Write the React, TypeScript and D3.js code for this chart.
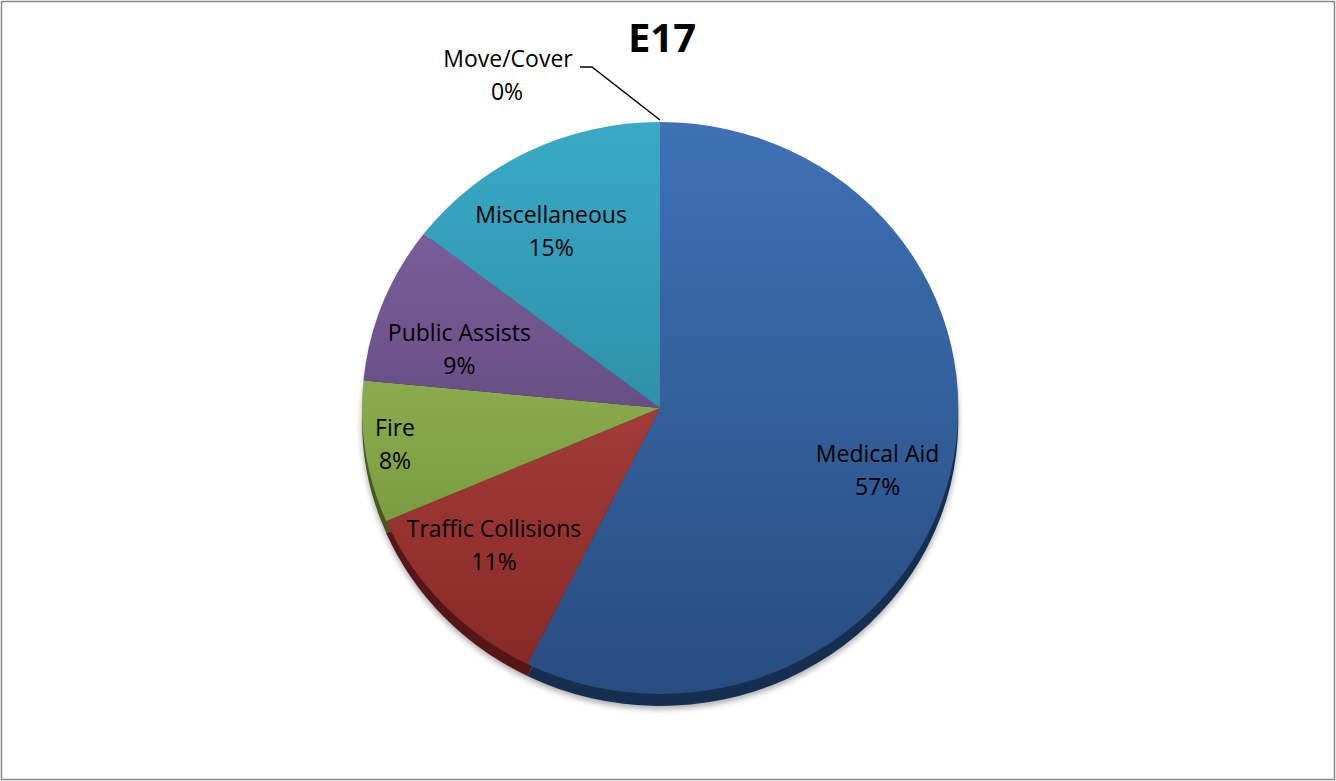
import React from "react";
import * as d3 from "d3";

// ---- data ----
const categories = ["Medical Aid", "Traffic Collisions", "Fire", "Public Assists", "Miscellaneous", "Move/Cover"];
const counts = [574, 112, 80, 89, 146, 0];
const title = "E17";

// ---- style ----
const topColors = ["#3E71B5", "#C04E4B", "#A6C664", "#8566A8", "#39AAC6"];
const bottomColors = ["#284D80", "#852826", "#6A8A33", "#4C3763", "#24778E"];
const rimColors = ["#182E4F", "#561614", "#445A1F", "#2F2240", "#154A58"];

const W = 1336;
const H = 781;
const CX = 660;
const CY = 408;
const RX = 298;
const RY = 286;
const RIM = 12;
const FONT = "'Open Sans', 'Noto Sans', sans-serif";

const labelLayout: Record<string, { f: number; dx: number; dy: number }> = {
  "Medical Aid": { f: 0.75, dx: 0, dy: 12 },
  "Traffic Collisions": { f: 0.73, dx: -8, dy: -7 },
  Fire: { f: 0.9, dx: 0, dy: -4 },
  "Public Assists": { f: 0.72, dx: -1, dy: 16 },
  Miscellaneous: { f: 0.72, dx: -14, dy: 7 },
};

export default function App() {
  const pie = d3.pie<number>().sort(null).value((d) => d);
  const arcs = pie(counts);
  const total = d3.sum(counts);
  const arcGen = d3.arc<d3.PieArcDatum<number>>().innerRadius(0).outerRadius(1);
  const pct = (v: number) => `${Math.round((v / total) * 100)}%`;

  const moveArc = arcs[5];
  const ax = CX + RX * Math.sin(moveArc.startAngle);
  const ay = CY - RY * Math.cos(moveArc.startAngle);

  return (
    <svg width={W} height={H} style={{ position: "absolute", left: 0, top: 0, background: "#fff" }}>
      <defs>
        {topColors.map((c, i) => (
          <linearGradient key={i} id={`g${i}`} gradientUnits="userSpaceOnUse" x1={0} y1={-1} x2={0} y2={1}>
            <stop offset="0%" stopColor={c} />
            <stop offset="100%" stopColor={bottomColors[i]} />
          </linearGradient>
        ))}
        <filter id="shadow" x="-10%" y="-10%" width="120%" height="125%">
          <feGaussianBlur in="SourceAlpha" stdDeviation="3" />
          <feOffset dx="0" dy="3" result="b" />
          <feComponentTransfer>
            <feFuncA type="linear" slope="0.35" />
          </feComponentTransfer>
          <feMerge>
            <feMergeNode />
            <feMergeNode in="SourceGraphic" />
          </feMerge>
        </filter>
      </defs>
      <rect x={1.5} y={1.5} width={W - 3} height={H - 3} fill="#fff" stroke="#898989" strokeWidth={1.5} />

      <g filter="url(#shadow)">
        <g transform={`translate(${CX},${CY + RIM}) scale(${RX},${RY})`}>
          {arcs.map((a, i) =>
            a.value > 0 ? <path key={i} d={arcGen(a) || ""} fill={rimColors[i]} /> : null
          )}
        </g>
      </g>
      <g transform={`translate(${CX},${CY}) scale(${RX},${RY})`}>
        {arcs.map((a, i) =>
          a.value > 0 ? <path key={i} d={arcGen(a) || ""} fill={`url(#g${i})`} /> : null
        )}
      </g>

      {arcs.map((a, i) => {
        const name = categories[i];
        const lay = labelLayout[name];
        if (!lay) return null;
        const mid = (a.startAngle + a.endAngle) / 2;
        const x = CX + RX * lay.f * Math.sin(mid) + lay.dx;
        const y = CY - RY * lay.f * Math.cos(mid) + lay.dy;
        return (
          <g key={name} fontFamily={FONT} fontSize={23} fill="#000" textAnchor="middle">
            <text x={x} y={y - 16.5} dominantBaseline="central">{name}</text>
            <text x={x} y={y + 16.5} dominantBaseline="central">{pct(counts[i])}</text>
          </g>
        );
      })}

      {/* Move/Cover outside label with leader */}
      <path
        d={`M${ax - 80},${ay - 55} L${ax - 68},${ay - 55} L${ax},${ay - 2}`}
        fill="none"
        stroke="#000"
        strokeWidth={1.5}
      />
      <g fontFamily={FONT} fontSize={23} fill="#000" textAnchor="middle">
        <text x={ax - 152} y={ay - 64} dominantBaseline="central">{categories[5]}</text>
        <text x={ax - 153} y={ay - 31} dominantBaseline="central">{pct(counts[5])}</text>
      </g>

      <text x={662} y={52} textAnchor="middle" fontFamily={FONT} fontWeight="bold" fontSize={40} fill="#000">
        {title}
      </text>
    </svg>
  );
}
